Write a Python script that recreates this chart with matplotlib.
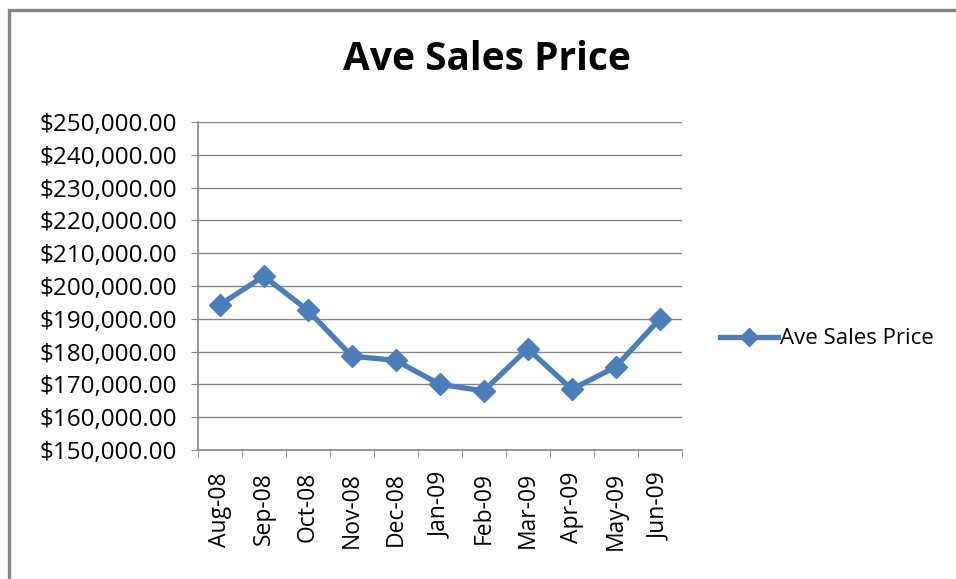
import matplotlib.pyplot as plt
from matplotlib.patches import Rectangle
from matplotlib.ticker import FuncFormatter, FixedLocator

months = ['Aug-08', 'Sep-08', 'Oct-08', 'Nov-08', 'Dec-08', 'Jan-09',
          'Feb-09', 'Mar-09', 'Apr-09', 'May-09', 'Jun-09']
prices = [194300, 203000, 192600, 178600, 177300, 170000,
          168000, 180900, 168500, 175300, 189900]
y_ticks = list(range(150000, 250001, 10000))

plt.rcParams['font.family'] = ['Open Sans', 'DejaVu Sans']

fig = plt.figure(figsize=(9.56, 5.79), dpi=100)
ax = fig.add_axes([0.207, 0.223, 0.506, 0.566])

x = list(range(len(months)))
ax.plot(x, prices, '-D', color='#4a7ebb', lw=3.8, ms=11, label='Ave Sales Price')

ax.set_xlim(-0.5, len(months) - 0.5)
ax.set_ylim(150000, 250000)
ax.set_yticks(y_ticks)
ax.yaxis.set_major_formatter(FuncFormatter(lambda v, p: '${:,.2f}'.format(v)))
ax.set_xticks(x)
ax.set_xticklabels(months, rotation=90, va='top')
ax.xaxis.set_minor_locator(FixedLocator([i - 0.5 for i in range(len(months) + 1)]))
ax.tick_params(axis='x', which='major', length=0, labelsize=16.5, pad=16)
ax.tick_params(axis='x', which='minor', length=5, color='#868686', direction='out')
ax.tick_params(axis='y', length=5, color='#868686', labelsize=17.5, pad=10)

ax.grid(axis='y', color='#868686', lw=1)
ax.set_axisbelow(True)
for s in ['top', 'right']:
    ax.spines[s].set_visible(False)
for s in ['left', 'bottom']:
    ax.spines[s].set_color('#868686')
    ax.spines[s].set_linewidth(1.2)

fig.text(0.509, 0.879, 'Ave Sales Price', ha='center', va='baseline',
         fontsize=28, fontweight='bold')

fig.legend(loc='center left', bbox_to_anchor=(0.744, 1 - 339 / 579), frameon=False,
           fontsize=16, handlelength=2.6, handletextpad=0.1, borderaxespad=0,
           markerscale=0.8)

fig.patches.append(Rectangle((0.0095, -0.1), 1.2, 1.082, transform=fig.transFigure,
                             fill=False, edgecolor='#868686', lw=2.4))

fig.savefig('out.png', dpi=100)
